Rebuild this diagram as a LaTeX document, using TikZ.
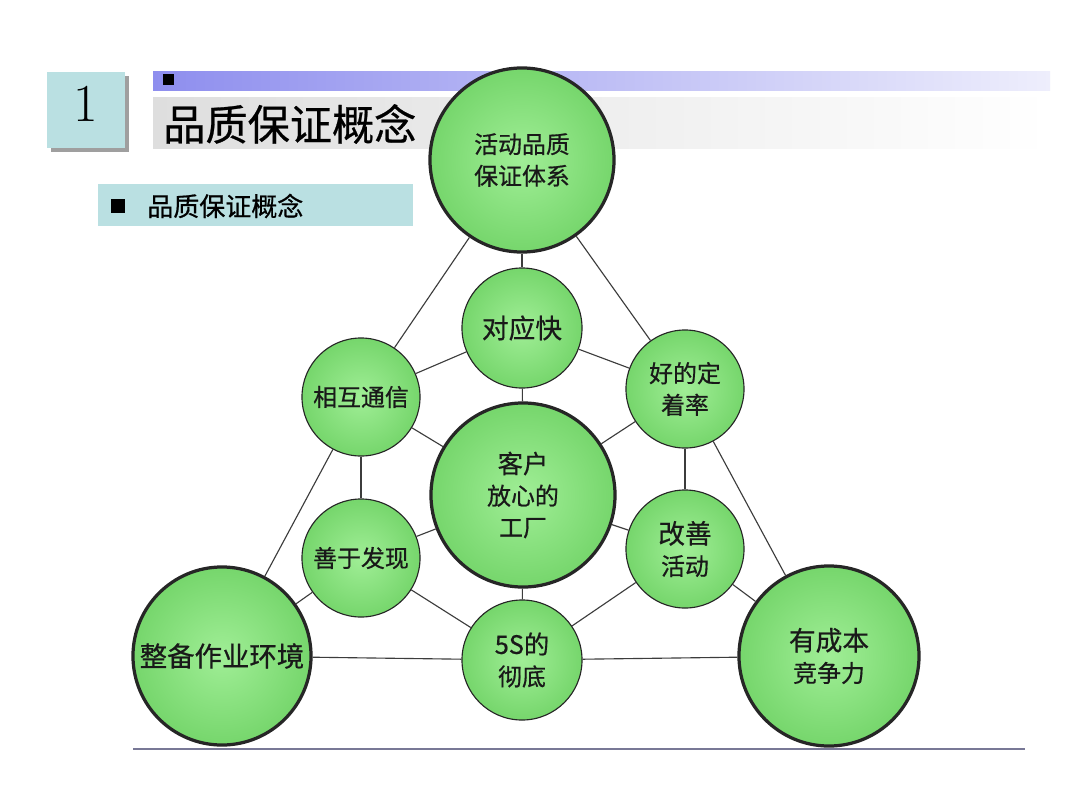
\documentclass[tikz,border=0pt]{standalone}
\usepackage{fontspec}
\newfontfamily\cjk[FakeBold=0.6]{Noto Sans CJK SC}
\usetikzlibrary{positioning}
\definecolor{boxteal}{RGB}{186,224,226}
\definecolor{barblue}{RGB}{142,142,238}
\definecolor{barpale}{RGB}{238,238,252}
\definecolor{bargray}{RGB}{222,222,222}
\definecolor{ballin}{RGB}{160,238,150}
\definecolor{ballout}{RGB}{118,214,108}
\definecolor{linkgray}{RGB}{60,60,60}
\definecolor{rulegray}{RGB}{120,120,150}
\tikzset{
  bub/.style={circle,draw=black!85,line width=0.8pt,inner sep=0pt,
    minimum size=2.95cm,inner color=ballin,outer color=ballout,
    align=center,text=black!90,font=\cjk\fontsize{17}{22.5}\selectfont},
  bigbub/.style={bub,line width=2.3pt,minimum size=4.6cm},
  link/.style={draw=linkgray,line width=0.8pt}
}
\begin{document}
\begin{tikzpicture}[x=0.025cm,y=-0.025cm]
  \useasboundingbox[fill=white] (0,0) rectangle (1080,810);
  % header
  \fill[gray!75] (51,76) rectangle (129,152);               % shadow of number box
  \fill[boxteal] (47,72) rectangle (125,148);               % number box
  \node (num) at (86,104) {\fontsize{38}{40}\selectfont 1};
  \shade[left color=barblue,right color=barpale] (153,71) rectangle (1050,90);
  \fill[black] (163,74) rectangle (174,85);
  \shade[left color=bargray,right color=white] (153,97) rectangle (1050,148);
  \node[anchor=west,inner sep=0pt] (title) at (163,124)
    {\cjk\fontsize{30}{32}\selectfont 品质保证概念};
  \fill[boxteal] (98,184) rectangle (413,226);              % sub heading
  \fill[black] (111,199) rectangle (125,213);
  \node[anchor=west,inner sep=0pt] (sub) at (147,206)
    {\cjk\fontsize{18.5}{20}\selectfont 品质保证概念};
  \draw[rulegray,line width=0.8pt] (133,749) -- (1025,749); % bottom rule

  % circles
  \node[bigbub] (tixi) at (522,160) {活动品质\\保证体系};
  \node[bub,minimum size=3cm] (kuai) at (522,328) {\fontsize{19}{22}\selectfont 对应快};
  \node[bub] (tongxin) at (361,397) {相互通信};
  \node[bub] (dingzhuo) at (685,389) {好的定\\着率};
  \node[bigbub] (kehu) at (523,495) {\fontsize{18}{22.5}\selectfont 客户\\放心的\\工厂};
  \node[bub] (faxian) at (361,558) {善于发现};
  \node[bub] (gaishan) at (685,549) {\fontsize{19}{24}\selectfont 改善\\活动};
  \node[bub,minimum size=3cm] (wus) at (522,660) {\fontsize{18}{23}\selectfont 5S的\\彻底};
  \node[bigbub,minimum size=4.45cm] (huanjing) at (222,656) {\fontsize{19.5}{22}\selectfont 整备作业环境};
  \node[bigbub,minimum size=4.5cm] (chengben) at (829,656) {\fontsize{19}{23.5}\selectfont 有成本\\竞争力};

  % links
  \draw[link] (tixi) -- (kuai);
  \draw[link] (tixi) -- (tongxin);
  \draw[link] (tixi) -- (dingzhuo);
  \draw[link] (kuai) -- (tongxin);
  \draw[link] (kuai) -- (dingzhuo);
  \draw[link] (kuai) -- (kehu);
  \draw[link] (tongxin) -- (kehu);
  \draw[link] (dingzhuo) -- (kehu);
  \draw[link] (tongxin) -- (faxian);
  \draw[link] (dingzhuo) -- (gaishan);
  \draw[link] (tongxin) -- (huanjing);
  \draw[link] (dingzhuo) -- (chengben);
  \draw[link] (faxian) -- (kehu);
  \draw[link] (gaishan) -- (kehu);
  \draw[link] (kehu) -- (wus);
  \draw[link] (faxian) -- (wus);
  \draw[link] (gaishan) -- (wus);
  \draw[link] (faxian) -- (huanjing);
  \draw[link] (gaishan) -- (chengben);
  \draw[link] (huanjing) -- (wus);
  \draw[link] (wus) -- (chengben);
\end{tikzpicture}
\end{document}
